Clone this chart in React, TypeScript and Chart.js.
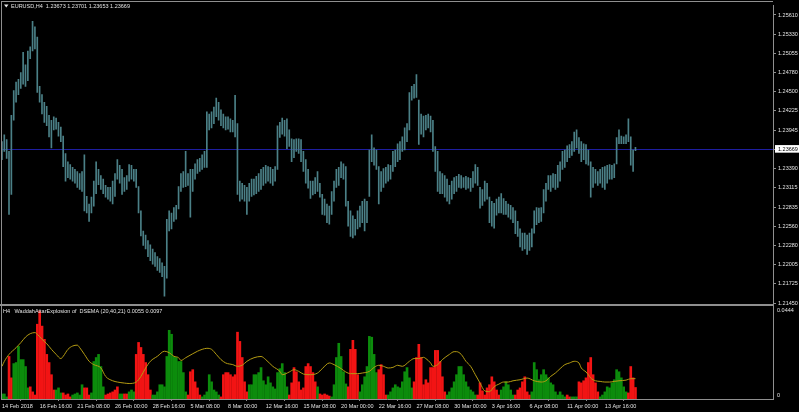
import React, { useEffect, useRef } from 'react';
import { Chart, registerables } from 'chart.js';

Chart.register(...registerables);

// ---------- data ----------
const symbolTitle = 'EURUSD,H4  1.23673 1.23701 1.23653 1.23669';
const indicatorTitle = 'H4   WaddahAttarExplosion of  DSEMA (20,40,21) 0.0055 0.0097';
const currentPrice = 1.23669;

const priceTicks = [1.2561, 1.2533, 1.25055, 1.2478, 1.245, 1.24225, 1.23945, 1.23669, 1.2339, 1.23115, 1.22835, 1.2256, 1.2228, 1.22005, 1.21725, 1.2145];

const highs = [
  1.2378, 1.2388, 1.2381, 1.2364, 1.2416, 1.2452, 1.2464, 1.2468, 1.2478, 1.2507,
  1.2489, 1.2509, 1.2515, 1.2552, 1.2544, 1.2529, 1.2458, 1.2446, 1.2435, 1.2429,
  1.2416, 1.2409, 1.2414, 1.2412, 1.2406, 1.2399, 1.2386, 1.2361, 1.2349, 1.2345,
  1.2341, 1.2338, 1.2335, 1.2332, 1.2335, 1.2359, 1.2299, 1.2288, 1.2298, 1.2321,
  1.2349, 1.2338, 1.2329, 1.2324, 1.2315, 1.2312, 1.2312, 1.2321, 1.2332, 1.2352,
  1.2344, 1.2338, 1.2326, 1.2329, 1.2345, 1.2344, 1.2338, 1.2338, 1.2313, 1.2278,
  1.2249, 1.2243, 1.2235, 1.2229, 1.2223, 1.2218, 1.2212, 1.2209, 1.2203, 1.2198,
  1.2266, 1.2278, 1.2275, 1.2283, 1.2286, 1.2313, 1.2332, 1.2335, 1.2364, 1.2332,
  1.2338, 1.2338, 1.2346, 1.2352, 1.2354, 1.2359, 1.2364, 1.2421, 1.2418, 1.2421,
  1.2428, 1.2441, 1.2435, 1.2424, 1.2418, 1.2414, 1.2414, 1.2411, 1.2409, 1.2445,
  1.2404, 1.2321, 1.2318, 1.2315, 1.2312, 1.2318, 1.2324, 1.2324, 1.2328, 1.2332,
  1.2338, 1.2341, 1.2344, 1.2342, 1.2341, 1.2338, 1.2342, 1.2401, 1.2406, 1.2412,
  1.2409, 1.2411, 1.2395, 1.2382, 1.2381, 1.2382, 1.2382, 1.2381, 1.2364, 1.2352,
  1.2338, 1.2321, 1.2321, 1.2326, 1.2335, 1.2318, 1.2302, 1.2295, 1.2288, 1.2285,
  1.2306, 1.2321, 1.2338, 1.2341, 1.2349, 1.2346, 1.2342, 1.2292, 1.2278, 1.2271,
  1.2266, 1.2278, 1.2285, 1.2292, 1.2295, 1.2292, 1.2366, 1.2388, 1.2369, 1.2366,
  1.2342, 1.2335, 1.2339, 1.2341, 1.2345, 1.2344, 1.2364, 1.2366, 1.2375, 1.2378,
  1.2385, 1.2398, 1.2404, 1.2449, 1.2458, 1.2461, 1.2475, 1.2438, 1.2418, 1.2415,
  1.2416, 1.2418, 1.2415, 1.2409, 1.2371, 1.2364, 1.2335, 1.2332, 1.2329, 1.2324,
  1.2315, 1.2321, 1.2326, 1.2328, 1.2331, 1.2329, 1.2326, 1.2328, 1.2326, 1.2325,
  1.2335, 1.2345, 1.2341, 1.2312, 1.2309, 1.2321, 1.2318, 1.2298, 1.2292, 1.2289,
  1.2295, 1.2298, 1.2303, 1.2296, 1.2292, 1.2288, 1.2286, 1.2283, 1.2278, 1.2263,
  1.2252, 1.2246, 1.2246, 1.2243, 1.2246, 1.2252, 1.2278, 1.2283, 1.2282, 1.2283,
  1.2309, 1.2318, 1.2329, 1.2329, 1.2332, 1.2331, 1.2344, 1.2349, 1.2364, 1.2366,
  1.2372, 1.2374, 1.2378, 1.2392, 1.2395, 1.2384, 1.2378, 1.2375, 1.2374, 1.2366,
  1.2349, 1.2341, 1.2338, 1.2335, 1.2338, 1.2341, 1.2342, 1.2344, 1.2345, 1.2344,
  1.2346, 1.2384, 1.2395, 1.2386, 1.2385, 1.2388, 1.2411, 1.2385, 1.2366, 1.2370,
];

const lows = [
  1.2352, 1.2364, 1.2354, 1.2273, 1.2302, 1.2409, 1.2435, 1.2446, 1.2455, 1.2461,
  1.2458, 1.2466, 1.2498, 1.2509, 1.2512, 1.2449, 1.2435, 1.2418, 1.2406, 1.2401,
  1.2385, 1.2369, 1.2395, 1.2396, 1.2386, 1.2378, 1.2342, 1.2321, 1.2326, 1.2324,
  1.2321, 1.2318, 1.2312, 1.2309, 1.2306, 1.2278, 1.2275, 1.2263, 1.2275, 1.2285,
  1.2303, 1.2316, 1.2309, 1.2303, 1.2298, 1.2295, 1.2292, 1.2288, 1.2299, 1.2324,
  1.2318, 1.2302, 1.2306, 1.2309, 1.2321, 1.2324, 1.2321, 1.2312, 1.2275, 1.2242,
  1.2228, 1.2223, 1.2212, 1.2206, 1.2201, 1.2198, 1.2192, 1.2189, 1.2183, 1.2155,
  1.2181, 1.2249, 1.2252, 1.2263, 1.2266, 1.2281, 1.2306, 1.2312, 1.2313, 1.2315,
  1.2269, 1.2306, 1.2324, 1.2332, 1.2335, 1.2338, 1.2341, 1.2341, 1.2395, 1.2398,
  1.2404, 1.2414, 1.2409, 1.2401, 1.2398, 1.2395, 1.2396, 1.2392, 1.2392, 1.2385,
  1.2302, 1.2292, 1.2295, 1.2292, 1.2273, 1.2292, 1.2299, 1.2301, 1.2303, 1.2306,
  1.2309, 1.2315, 1.2318, 1.2321, 1.2318, 1.2315, 1.2321, 1.2338, 1.2384, 1.2389,
  1.2386, 1.2368, 1.2371, 1.2349, 1.2355, 1.2364, 1.2361, 1.2349, 1.2335, 1.2318,
  1.2311, 1.2296, 1.2301, 1.2303, 1.2306, 1.2298, 1.2273, 1.2272, 1.2261, 1.2259,
  1.2273, 1.2292, 1.2312, 1.2315, 1.2326, 1.2324, 1.2285, 1.2256, 1.2241, 1.2239,
  1.2243, 1.2252, 1.2255, 1.2261, 1.2249, 1.2261, 1.2299, 1.2349, 1.2344, 1.2338,
  1.2288, 1.2306, 1.2312, 1.2318, 1.2321, 1.2324, 1.2335, 1.2342, 1.2349, 1.2352,
  1.2364, 1.2366, 1.2378, 1.2395, 1.2438, 1.2441, 1.2442, 1.2374, 1.2389, 1.2385,
  1.2395, 1.2398, 1.2392, 1.2364, 1.2335, 1.2306, 1.2303, 1.2303, 1.2298, 1.2292,
  1.2288, 1.2295, 1.2303, 1.2306, 1.2312, 1.2311, 1.2312, 1.2309, 1.2311, 1.2306,
  1.2312, 1.2318, 1.2315, 1.2282, 1.2286, 1.2292, 1.2295, 1.2261, 1.2256, 1.2253,
  1.2272, 1.2275, 1.2275, 1.2273, 1.2273, 1.2269, 1.2266, 1.2261, 1.2245, 1.2241,
  1.2226, 1.2221, 1.2223, 1.2215, 1.2221, 1.2226, 1.2246, 1.2258, 1.2261, 1.2263,
  1.2275, 1.2292, 1.2309, 1.2306, 1.2312, 1.2309, 1.2312, 1.2321, 1.2338, 1.2341,
  1.2349, 1.2355, 1.2358, 1.2364, 1.2369, 1.2361, 1.2349, 1.2352, 1.2346, 1.2344,
  1.2298, 1.2312, 1.2318, 1.2315, 1.2318, 1.2312, 1.2309, 1.2318, 1.2324, 1.2324,
  1.2326, 1.2346, 1.2375, 1.2375, 1.2375, 1.2375, 1.2378, 1.2344, 1.2335, 1.2365,
];

// Waddah Attar histogram: positive = green (up trend), negative = red (down trend)
const waeValues = [
  0.0024, 0.0024, 0.0010, -0.0203, -0.0101, 0.0169, 0.0174, 0.0251, 0.0188, 0.0188,
  0.0155, 0.0053, -0.0058, -0.0034, -0.0019, -0.0357, -0.0420, -0.0348, -0.0285, -0.0213,
  -0.0174, -0.0116, -0.0043, 0.0043, 0.0053, 0.0029, -0.0029, -0.0019, -0.0024, -0.0010,
  0.0019, 0.0024, 0.0029, 0.0019, 0.0068, -0.0053, -0.0053, -0.0019, 0.0029, 0.0179,
  0.0198, 0.0213, 0.0155, 0.0058, -0.0019, -0.0024, -0.0029, -0.0034, -0.0043, -0.0058,
  0.0024, 0.0024, -0.0024, -0.0024, 0.0034, 0.0043, 0.0034, -0.0213, -0.0270, -0.0246,
  -0.0213, -0.0174, -0.0116, -0.0043, 0.0019, 0.0019, 0.0034, 0.0068, 0.0068, 0.0058,
  0.0203, 0.0328, 0.0309, 0.0203, 0.0198, 0.0179, 0.0179, 0.0126, 0.0034, -0.0019,
  -0.0130, -0.0140, -0.0082, -0.0053, -0.0019, 0.0010, 0.0019, 0.0034, 0.0116, 0.0082,
  0.0043, 0.0034, 0.0019, -0.0010, -0.0116, -0.0126, -0.0126, -0.0116, -0.0106, -0.0116,
  -0.0319, -0.0275, -0.0198, -0.0082, -0.0034, 0.0068, 0.0068, 0.0116, 0.0116, 0.0126,
  0.0150, 0.0087, 0.0068, 0.0106, 0.0077, 0.0058, 0.0048, 0.0126, 0.0145, 0.0169,
  0.0126, 0.0058, -0.0019, -0.0077, -0.0150, -0.0130, -0.0082, -0.0043, -0.0053, -0.0155,
  -0.0169, -0.0155, -0.0126, -0.0082, 0.0058, -0.0024, -0.0019, -0.0024, -0.0019, -0.0014,
  0.0010, 0.0068, 0.0198, 0.0266, 0.0203, 0.0130, 0.0072, -0.0058, -0.0237, -0.0280,
  -0.0237, -0.0116, 0.0034, 0.0068, 0.0106, 0.0155, 0.0299, 0.0295, 0.0213, 0.0126,
  -0.0140, -0.0164, -0.0116, -0.0019, 0.0019, 0.0034, 0.0053, 0.0068, 0.0058, 0.0053,
  0.0082, 0.0130, 0.0150, 0.0101, 0.0053, -0.0082, -0.0198, -0.0261, -0.0198, -0.0068,
  -0.0092, -0.0077, -0.0150, -0.0150, -0.0232, -0.0232, -0.0179, -0.0106, -0.0034, 0.0019,
  0.0034, 0.0053, 0.0082, 0.0116, 0.0155, 0.0155, 0.0116, 0.0082, 0.0058, 0.0043,
  0.0034, 0.0019, -0.0019, -0.0077, -0.0039, -0.0019, -0.0053, -0.0068, -0.0106, -0.0082,
  -0.0043, -0.0019, 0.0043, 0.0058, 0.0082, 0.0068, 0.0043, 0.0019, -0.0019, -0.0043,
  -0.0053, -0.0082, -0.0106, -0.0034, -0.0019, 0.0034, 0.0174, 0.0140, 0.0092, 0.0116,
  0.0140, 0.0116, 0.0101, 0.0077, 0.0068, 0.0034, 0.0019, 0.0034, 0.0019, 0.0010,
  -0.0019, -0.0010, 0.0010, 0.0010, 0.0010, -0.0082, -0.0077, -0.0087, -0.0101, -0.0174,
  -0.0198, -0.0116, -0.0077, -0.0034, 0.0010, 0.0019, 0.0034, 0.0058, 0.0053, 0.0077,
  0.0092, 0.0140, 0.0130, 0.0101, 0.0058, 0.0034, -0.0029, -0.0155, -0.0101, -0.0055,
];

// explosion line, sampled at bar indices
const signalBars = [
  0, 1, 3, 6, 8, 10, 12, 14, 15, 17, 19, 21, 23, 25, 26, 28, 30, 32, 33, 35,
  37, 39, 42, 44, 47, 49, 52, 54, 57, 59, 61, 63, 66, 69, 71, 73, 75, 76, 78, 81,
  83, 85, 87, 89, 91, 93, 95, 98, 100, 102, 104, 107, 110, 112, 115, 118, 119, 122, 124, 126,
  128, 131, 134, 136, 139, 141, 144, 146, 148, 151, 153, 156, 158, 160, 162, 164, 166, 168, 170, 173,
  175, 177, 179, 180, 182, 183, 185, 187, 190, 192, 193, 195, 197, 199, 201, 203, 205, 207, 209, 211,
  213, 215, 217, 220, 223, 226, 229, 231, 233, 235, 237, 239, 241, 243, 245, 246, 248, 249, 250, 252,
  254, 256, 258, 260, 262, 265, 267, 269,
];
const signalValues = [
  0.0156, 0.0180, 0.0213, 0.0245, 0.0269, 0.0296, 0.0312, 0.0317, 0.0309, 0.0285,
  0.0264, 0.0237, 0.0213, 0.0193, 0.0204, 0.0237, 0.0253, 0.0257, 0.0245, 0.0213,
  0.0180, 0.0164, 0.0148, 0.0108, 0.0087, 0.0081, 0.0076, 0.0074, 0.0081, 0.0108,
  0.0148, 0.0180, 0.0204, 0.0228, 0.0221, 0.0204, 0.0197, 0.0184, 0.0197, 0.0216,
  0.0228, 0.0237, 0.0242, 0.0237, 0.0213, 0.0188, 0.0172, 0.0164, 0.0156, 0.0161,
  0.0180, 0.0197, 0.0203, 0.0188, 0.0156, 0.0132, 0.0116, 0.0129, 0.0140, 0.0132,
  0.0119, 0.0116, 0.0124, 0.0145, 0.0172, 0.0164, 0.0145, 0.0129, 0.0121, 0.0121,
  0.0124, 0.0132, 0.0151, 0.0161, 0.0156, 0.0148, 0.0151, 0.0161, 0.0156, 0.0180,
  0.0193, 0.0193, 0.0199, 0.0193, 0.0172, 0.0156, 0.0164, 0.0188, 0.0213, 0.0226,
  0.0226, 0.0213, 0.0180, 0.0156, 0.0116, 0.0076, 0.0039, 0.0035, 0.0059, 0.0071,
  0.0081, 0.0081, 0.0087, 0.0092, 0.0100, 0.0087, 0.0081, 0.0087, 0.0108, 0.0124,
  0.0145, 0.0164, 0.0172, 0.0180, 0.0172, 0.0148, 0.0129, 0.0116, 0.0100, 0.0087,
  0.0084, 0.0081, 0.0081, 0.0084, 0.0087, 0.0090, 0.0097, 0.0097,
];

const dateTickBars = [0, 16, 32, 48, 64, 80, 96, 112, 128, 144, 160, 176, 192, 208, 224, 240, 256];
const dateLabels = [
  '14 Feb 2018', '16 Feb 16:00', '21 Feb 08:00', '26 Feb 00:00', '28 Feb 16:00', '5 Mar 08:00',
  '8 Mar 00:00', '12 Mar 16:00', '15 Mar 08:00', '20 Mar 00:00', '22 Mar 16:00', '27 Mar 08:00',
  '30 Mar 00:00', '3 Apr 16:00', '6 Apr 08:00', '11 Apr 00:00', '13 Apr 16:00',
];
const indicatorAxisValues = [0.0444, 0];
const indicatorAxisLabels = ['0.0444', '0'];

// ---------- styles ----------
const FONT = "'Liberation Sans', Arial, sans-serif";
const FONT_SIZE = 5.5;
const TEXT = '#e2e2e2';
const FRAME = '#8f8f8f';
const BAR_COLOR = '#4b8087';
const GREEN = '#0c8c0c';
const RED = '#f21414';
const SIGNAL = '#b49b12';
const PRICE_LINE = '#1e1ea0';
const X_MIN = -0.4;
const X_MAX = 327.4;
const PRICE_MIN = 1.2145;
const PRICE_MAX = 1.2575;
const IND_MAX = 0.0444;

const pricePanelPlugin = {
  id: 'pricePanel',
  beforeDatasetsDraw(chart: any) {
    const { ctx, chartArea: a, scales } = chart;
    const py = Math.round(scales.y.getPixelForValue(currentPrice));
    ctx.save();
    ctx.fillStyle = PRICE_LINE;
    ctx.fillRect(a.left, py, a.right - a.left, 1);
    ctx.restore();
  },
  afterDraw(chart: any) {
    const { ctx, chartArea: a } = chart;
    ctx.save();
    ctx.fillStyle = FRAME;
    ctx.fillRect(1, 1, a.right - 1, 1);
    ctx.fillRect(1, 1, 1, a.bottom);
    // dropdown triangle
    ctx.fillStyle = '#e8e8e8';
    ctx.beginPath();
    ctx.moveTo(4, 4.5);
    ctx.lineTo(8.5, 4.5);
    ctx.lineTo(6.25, 7.5);
    ctx.closePath();
    ctx.fill();
    ctx.fillStyle = TEXT;
    ctx.font = `${FONT_SIZE}px ${FONT}`;
    ctx.textBaseline = 'middle';
    ctx.textAlign = 'left';
    ctx.fillText(symbolTitle, 11, 6.5);
    ctx.restore();
  },
};

const indicatorPanelPlugin = {
  id: 'indicatorPanel',
  afterDraw(chart: any) {
    const { ctx, chartArea: a, scales } = chart;
    ctx.save();
    ctx.fillStyle = FRAME;
    ctx.fillRect(0, 0, a.right + 1, 2);
    ctx.fillRect(1, 2, 1, a.bottom - 2);
    ctx.fillStyle = TEXT;
    ctx.font = `${FONT_SIZE}px ${FONT}`;
    ctx.textBaseline = 'middle';
    ctx.textAlign = 'left';
    ctx.fillText(indicatorTitle, 3, 7.5);
    indicatorAxisValues.forEach((v, k) => {
      let y = scales.y.getPixelForValue(v);
      y = Math.min(Math.max(y, a.top + 4), a.bottom - 3.5);
      ctx.fillText(indicatorAxisLabels[k], a.right + 4, y);
    });
    ctx.restore();
  },
};

export default function App() {
  const priceRef = useRef<HTMLCanvasElement>(null);
  const indRef = useRef<HTMLCanvasElement>(null);

  useEffect(() => {
    const font = { family: FONT, size: FONT_SIZE };
    const priceChart = new Chart(priceRef.current as HTMLCanvasElement, {
      type: 'bar',
      data: {
        datasets: [
          {
            data: highs.map((h, i) => ({ x: i, y: [lows[i], h] })) as any,
            backgroundColor: BAR_COLOR,
            barThickness: 1,
            borderWidth: 0,
            grouped: false,
          } as any,
        ],
      },
      options: {
        responsive: false,
        animation: false,
        devicePixelRatio: 1,
        events: [],
        layout: { padding: { left: 1, top: 2, right: 0, bottom: 9 } },
        plugins: { legend: { display: false }, tooltip: { enabled: false } },
        scales: {
          x: { type: 'linear', min: X_MIN, max: X_MAX, display: false, offset: false },
          y: {
            type: 'linear',
            position: 'right',
            min: PRICE_MIN,
            max: PRICE_MAX,
            afterFit: (s: any) => { s.width = 26; },
            afterBuildTicks: (s: any) => { s.ticks = priceTicks.map((v) => ({ value: v })); },
            ticks: {
              autoSkip: false,
              font,
              padding: 2,
              callback: (v: any) => Number(v).toFixed(5),
              color: (c: any) => (c.tick && c.tick.value === currentPrice ? '#000000' : TEXT),
              showLabelBackdrop: (c: any) => !!(c.tick && c.tick.value === currentPrice),
              backdropColor: '#ffffff',
              backdropPadding: { left: 3, right: 3, top: 1, bottom: 0 },
            } as any,
            grid: { drawOnChartArea: false, drawTicks: true, tickLength: 3, color: FRAME },
            border: { display: true, color: FRAME },
          } as any,
        },
      },
      plugins: [pricePanelPlugin],
    });

    const indChart = new Chart(indRef.current as HTMLCanvasElement, {
      type: 'bar',
      data: {
        datasets: [
          {
            type: 'line',
            data: signalBars.map((b, k) => ({ x: b, y: signalValues[k] })) as any,
            borderColor: SIGNAL,
            borderWidth: 1,
            pointRadius: 0,
            cubicInterpolationMode: 'monotone',
            order: 0,
          } as any,
          {
            type: 'bar',
            data: waeValues.map((v, i) => ({ x: i, y: Math.abs(v) })) as any,
            backgroundColor: waeValues.map((v) => (v >= 0 ? GREEN : RED)),
            barThickness: 2,
            borderWidth: 0,
            grouped: false,
            order: 1,
          } as any,
        ],
      },
      options: {
        responsive: false,
        animation: false,
        devicePixelRatio: 1,
        events: [],
        layout: { padding: { left: 1, top: 2, right: 0, bottom: 0 } },
        plugins: { legend: { display: false }, tooltip: { enabled: false } },
        scales: {
          x: {
            type: 'linear',
            position: 'bottom',
            min: X_MIN,
            max: X_MAX,
            offset: false,
            afterFit: (s: any) => { s.height = 13; },
            afterBuildTicks: (s: any) => { s.ticks = dateTickBars.map((v) => ({ value: v })); },
            ticks: {
              autoSkip: false,
              maxRotation: 0,
              minRotation: 0,
              align: 'start',
              font,
              color: TEXT,
              padding: 2,
              callback: (v: any) => dateLabels[dateTickBars.indexOf(Number(v))],
            },
            grid: { drawOnChartArea: false, drawTicks: true, tickLength: 2, color: FRAME },
            border: { display: true, color: FRAME },
          } as any,
          y: {
            type: 'linear',
            position: 'right',
            min: 0,
            max: IND_MAX,
            afterFit: (s: any) => { s.width = 26; },
            ticks: { display: false },
            grid: { display: false, drawOnChartArea: false, drawTicks: false },
            border: { display: true, color: FRAME },
          } as any,
        },
      },
      plugins: [indicatorPanelPlugin],
    });

    return () => {
      priceChart.destroy();
      indChart.destroy();
    };
  }, []);

  return (
    <div style={{ position: 'fixed', left: 0, top: 0, width: 799, height: 412, background: '#000', overflow: 'hidden' }}>
      <canvas ref={priceRef} width={799} height={312} style={{ position: 'absolute', left: 0, top: 0 }} />
      <canvas ref={indRef} width={799} height={108} style={{ position: 'absolute', left: 0, top: 304 }} />
    </div>
  );
}
